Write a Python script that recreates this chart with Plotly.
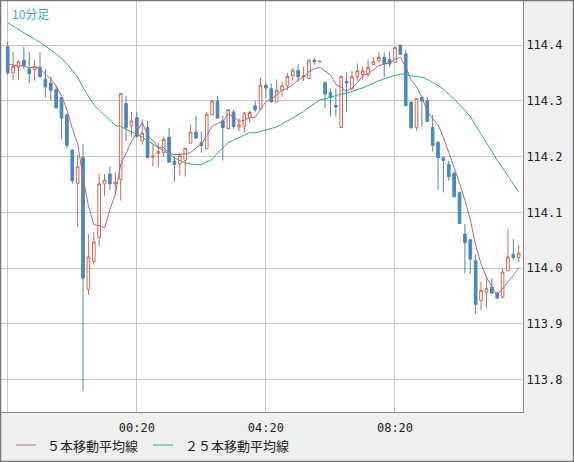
import plotly.graph_objects as go
import numpy as np

opens = [114.397,114.350,114.360,114.373,114.357,114.356,114.360,114.339,114.332,114.320,
         114.306,114.275,114.212,114.152,114.198,113.962,114.012,114.055,114.151,114.169,
         114.151,114.159,114.295,114.255,114.270,114.228,114.252,114.199,114.206,114.207,
         114.235,114.192,114.187,114.193,114.224,114.244,114.225,114.214,114.275,114.300,
         114.264,114.250,114.280,114.253,114.255,114.270,114.291,114.285,114.328,114.322,
         114.298,114.319,114.327,114.345,114.355,114.343,114.340,114.373,114.370,114.333,
         114.315,114.292,114.252,114.335,114.321,114.343,114.347,114.348,114.365,114.372,
         114.378,114.374,114.369,114.400,114.384,114.298,114.252,114.306,114.300,114.252,
         114.226,114.198,114.186,114.170,114.136,114.061,114.051,114.013,113.942,113.957,
         113.966,113.955,113.948,113.995,114.025,114.019]
closes = [114.350,114.362,114.370,114.363,114.349,114.361,114.343,114.325,114.319,114.288,
          114.269,114.220,114.157,114.182,113.982,114.020,114.047,114.151,114.158,114.151,
          114.154,114.313,114.252,114.264,114.236,114.242,114.198,114.201,114.209,114.231,
          114.190,114.186,114.202,114.215,114.244,114.233,114.220,114.276,114.300,114.269,
          114.252,114.284,114.254,114.257,114.278,114.279,114.284,114.328,114.323,114.298,
          114.319,114.327,114.344,114.355,114.343,114.345,114.373,114.370,114.371,114.312,
          114.306,114.289,114.344,114.332,114.343,114.354,114.354,114.360,114.370,114.378,
          114.366,114.366,114.396,114.383,114.291,114.252,114.304,114.300,114.263,114.220,
          114.198,114.193,114.164,114.128,114.080,114.046,114.016,113.935,113.960,113.964,
          113.955,113.946,113.993,114.020,114.019,114.027]
highs = [114.406,114.388,114.373,114.397,114.387,114.373,114.387,114.357,114.343,114.328,
         114.307,114.275,114.212,114.203,114.222,114.061,114.065,114.169,114.169,114.182,
         114.172,114.313,114.309,114.280,114.280,114.267,114.264,114.221,114.224,114.236,
         114.251,114.200,114.206,114.215,114.257,114.273,114.245,114.280,114.301,114.309,
         114.273,114.284,114.284,114.269,114.280,114.282,114.300,114.341,114.333,114.331,
         114.338,114.334,114.350,114.358,114.366,114.361,114.374,114.377,114.371,114.333,
         114.322,114.322,114.344,114.351,114.354,114.367,114.361,114.374,114.378,114.387,
         114.387,114.388,114.396,114.400,114.391,114.298,114.304,114.309,114.307,114.275,
         114.226,114.198,114.193,114.173,114.136,114.079,114.051,114.024,113.976,113.982,
         113.982,113.958,113.999,114.071,114.052,114.042]
lows = [114.346,114.337,114.337,114.357,114.331,114.336,114.343,114.306,114.301,114.285,
        114.231,114.215,114.151,114.074,113.779,113.952,114.006,114.039,114.130,114.140,
        114.135,114.121,114.228,114.236,114.235,114.221,114.198,114.182,114.181,114.200,
        114.190,114.155,114.166,114.164,114.224,114.233,114.207,114.214,114.275,114.269,
        114.193,114.249,114.249,114.246,114.243,114.261,114.279,114.284,114.306,114.297,
        114.297,114.307,114.319,114.336,114.334,114.336,114.340,114.364,114.370,114.287,
        114.272,114.272,114.252,114.280,114.321,114.336,114.337,114.343,114.365,114.367,
        114.342,114.360,114.369,114.383,114.291,114.249,114.246,114.254,114.263,114.209,
        114.140,114.136,114.157,114.127,114.080,113.991,113.990,113.918,113.925,113.928,
        113.955,113.946,113.946,113.995,114.015,114.011]
# closes before the visible window (needed for the moving averages)
prior_closes = [114.52,114.51,114.52,114.50,114.50,114.48,114.49,114.49,114.47,114.48,
                114.46,114.47,114.46,114.45,114.44,114.40,114.39,114.38,114.39,114.38,
                114.37,114.38,114.36,114.37]
x_tick_labels = ["00:20", "04:20", "08:20"]
y_ticks = [113.8, 113.9, 114.0, 114.1, 114.2, 114.3, 114.4]
legend_names = ["５本移動平均線", "２５本移動平均線"]
ma_colors = ["#b4668e", "#2bb07c"]

n = len(closes)
idx = list(range(n))
allc = np.array(prior_closes + closes)
k = len(prior_closes)
ma5 = [allc[k+i-4:k+i+1].mean() for i in range(n)]
ma25 = [allc[k+i-24:k+i+1].mean() for i in range(n)]

W, H = 574, 462
L, R, T, B = 1, 51, 1, 50
pw, ph = W - L - R, H - T - B

fig = go.Figure()
fig.add_trace(go.Candlestick(x=idx, open=opens, high=highs, low=lows, close=closes,
    increasing=dict(line=dict(color="#d9654b", width=1), fillcolor="#ffffff"),
    decreasing=dict(line=dict(color="#4a86c0", width=1), fillcolor="#4a86c0"),
    whiskerwidth=0, showlegend=False, hoverinfo="skip"))
for name, ys, col in zip(legend_names, [ma5, ma25], ma_colors):
    fig.add_trace(go.Scatter(x=idx, y=ys, mode="lines", line=dict(color=col, width=1),
                             name=name, showlegend=False, hoverinfo="skip"))

def px(xp): return (xp - L) / pw
def py(yp): return (H - B - yp) / ph

annotations = [dict(text="10分足", xref="paper", yref="paper", x=px(10), y=py(3),
                    xanchor="left", yanchor="top", showarrow=False,
                    font=dict(color="#33aadd", size=12, family="Noto Sans CJK JP"))]
shapes = [dict(type="rect", xref="paper", yref="paper", x0=px(0.5), x1=px(W - 0.5),
               y0=py(H - 0.5), y1=py(0.5), line=dict(color="#777", width=1.5))]
for (lx, tx), name, col in zip([(16, 45), (153, 183)], legend_names, ma_colors):
    shapes.append(dict(type="line", xref="paper", yref="paper", x0=px(lx), x1=px(lx + 20),
                       y0=py(445), y1=py(445), line=dict(color=col, width=1)))
    annotations.append(dict(text=name, xref="paper", yref="paper", x=px(tx), y=py(445),
                            xanchor="left", yanchor="middle", showarrow=False,
                            font=dict(size=13, family="Noto Sans CJK JP", color="#222")))

fig.update_layout(
    width=W, height=H, margin=dict(l=L, r=R, t=T, b=B, autoexpand=False),
    paper_bgcolor="#efefef", plot_bgcolor="#ffffff", showlegend=False,
    font=dict(family="DejaVu Sans Mono, Noto Sans CJK JP", size=12, color="#222"),
    xaxis=dict(range=[-1.25, 95.8], tickvals=[0, 24, 48, 72], ticktext=[""] + x_tick_labels,
               showgrid=True, gridcolor="#c8c8c8", gridwidth=1, rangeslider=dict(visible=False),
               showline=True, linecolor="#888", ticks="", zeroline=False,
               tickfont=dict(size=12), ticklabelstandoff=5, automargin=False),
    yaxis=dict(range=[113.742, 114.479], tickvals=y_ticks, ticktext=[f"{v:.1f}" for v in y_ticks],
               side="right", showgrid=True, gridcolor="#c8c8c8", showline=True, linecolor="#888",
               ticks="", zeroline=False, tickfont=dict(size=12), automargin=False),
    annotations=annotations, shapes=shapes,
)
fig.write_html("out.html", config={"displayModeBar": False},
               post_script="document.body.style.margin='0';")
